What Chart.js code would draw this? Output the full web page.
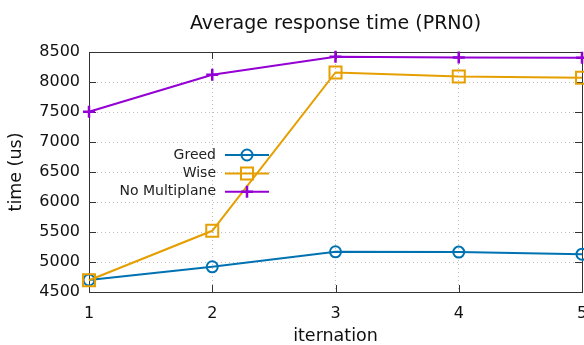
<!DOCTYPE html>
<html>
<head>
<meta charset="utf-8">
<script src="https://cdn.jsdelivr.net/npm/chart.js@4/dist/chart.umd.min.js"></script>
<style>
  html, body { margin: 0; padding: 0; background: #fff; }
  #wrap { width: 584px; height: 345px; }
</style>
</head>
<body>
<div id="wrap"><canvas id="chart"></canvas></div>
<script>
var iterations = ["1", "2", "3", "4", "5"];
var greed = [4700, 4920, 5170, 5165, 5130];
var wise = [4695, 5520, 8160, 8090, 8070];
var noMultiplane = [7505, 8120, 8420, 8410, 8405];
var yTicks = [4500, 5000, 5500, 6000, 6500, 7000, 7500, 8000, 8500];

var FONT = "'DejaVu Sans', Verdana, sans-serif";

// gnuplot style frame with inward ticks on all four sides
var framePlugin = {
	id: "frame",
	beforeDatasetsDraw: function(chart) {
		var c = chart.ctx, a = chart.chartArea;
		var xs = chart.scales.x, ys = chart.scales.y;
		c.save();
		c.strokeStyle = "#333";
		c.lineWidth = 1;
		c.beginPath();
		xs.ticks.forEach(function(t, i) {
			var px = Math.round(xs.getPixelForTick(i)) + 0.5;
			c.moveTo(px, a.bottom); c.lineTo(px, a.bottom - 7);
			c.moveTo(px, a.top); c.lineTo(px, a.top + 7);
		});
		ys.ticks.forEach(function(t, i) {
			var py = Math.round(ys.getPixelForTick(i)) + 0.5;
			c.moveTo(a.left, py); c.lineTo(a.left + 7, py);
			c.moveTo(a.right, py); c.lineTo(a.right - 7, py);
		});
		c.stroke();
		c.strokeRect(Math.round(a.left) + 0.5, Math.round(a.top) + 0.5,
			Math.round(a.right - a.left), Math.round(a.bottom - a.top));
		c.restore();
	}
};

// key inside the plot: text right aligned, sample line on the right
var keyPlugin = {
	id: "key",
	afterDatasetsDraw: function(chart) {
		var c = chart.ctx, a = chart.chartArea;
		var textRight = a.left + 127, x0 = a.left + 136, x1 = a.left + 180;
		var y = a.top + 103;
		c.save();
		c.font = "14px " + FONT;
		c.textAlign = "right";
		c.textBaseline = "middle";
		chart.data.datasets.forEach(function(ds) {
			c.fillStyle = "#222";
			c.fillText(ds.label, textRight, y);
			c.strokeStyle = ds.borderColor;
			c.lineWidth = ds.borderWidth;
			c.beginPath(); c.moveTo(x0, y); c.lineTo(x1, y); c.stroke();
			c.fillStyle = "rgba(0,0,0,0)";
			c.lineWidth = ds.pointBorderWidth;
			Chart.helpers.drawPoint(c, {
				pointStyle: ds.pointStyle, radius: ds.pointRadius, rotation: 0,
				borderWidth: ds.pointBorderWidth
			}, (x0 + x1) / 2, y);
			y += 18.4;
		});
		c.restore();
	}
};

new Chart(document.getElementById("chart"), {
	type: "line",
	data: {
		labels: iterations,
		datasets: [
			{
				label: "Greed",
				data: greed,
				borderColor: "#0072b2",
				backgroundColor: "rgba(0,0,0,0)",
				borderWidth: 2,
				pointStyle: "circle",
				pointRadius: 5.5,
				pointBorderWidth: 2,
				pointBackgroundColor: "rgba(0,0,0,0)",
				clip: false,
				order: 3
			},
			{
				label: "Wise",
				data: wise,
				borderColor: "#e69f00",
				backgroundColor: "rgba(0,0,0,0)",
				borderWidth: 2,
				pointStyle: "rect",
				pointRadius: 8.5,
				pointBorderWidth: 2,
				pointBackgroundColor: "rgba(0,0,0,0)",
				clip: false,
				order: 2
			},
			{
				label: "No Multiplane",
				data: noMultiplane,
				borderColor: "#9400d3",
				backgroundColor: "rgba(0,0,0,0)",
				borderWidth: 2,
				pointStyle: "cross",
				pointRadius: 6,
				pointBorderWidth: 2.5,
				pointBackgroundColor: "rgba(0,0,0,0)",
				clip: false,
				order: 1
			}
		]
	},
	options: {
		responsive: true,
		maintainAspectRatio: false,
		animation: false,
		layout: { autoPadding: false, padding: { left: 0, right: 2, top: 0, bottom: 0 } },
		plugins: {
			legend: { display: false },
			tooltip: { enabled: false },
			title: {
				display: true,
				fullSize: false,
				text: "Average response time (PRN0)",
				color: "#111",
				font: { family: FONT, size: 19, weight: "normal" },
				padding: { top: 12.6, bottom: 16.6 }
			}
		},
		scales: {
			x: {
				type: "category",
				offset: false,
				afterFit: function(s) {
					s.height = 53;
					s.paddingLeft = 0;
					s.paddingRight = 0;
				},
				grid: { color: "#bdbdbd", lineWidth: 1, drawTicks: false },
				border: { display: false, dash: [1, 3] },
				ticks: {
					color: "#111",
					padding: 12,
					maxRotation: 0,
					font: { family: FONT, size: 16 }
				},
				title: {
					display: true,
					text: "iternation",
					color: "#111",
					padding: 0,
					font: { family: FONT, size: 17.5, lineHeight: 1 }
				}
			},
			y: {
				min: 4500,
				max: 8500,
				afterFit: function(s) {
					s.width = 89;
					s.paddingTop = 0;
					s.paddingBottom = 0;
				},
				afterBuildTicks: function(s) {
					s.ticks = yTicks.map(function(v) { return { value: v }; });
				},
				grid: { color: "#bdbdbd", lineWidth: 1, drawTicks: false },
				border: { display: false, dash: [1, 3] },
				ticks: {
					color: "#111",
					padding: 9,
					font: { family: FONT, size: 16 },
					callback: function(v) { return String(v); }
				},
				title: {
					display: true,
					text: "time (us)",
					color: "#111",
					padding: { top: 8, bottom: 0 },
					font: { family: FONT, size: 17.5, lineHeight: 1 }
				}
			}
		}
	},
	plugins: [framePlugin, keyPlugin]
});
</script>
</body>
</html>
